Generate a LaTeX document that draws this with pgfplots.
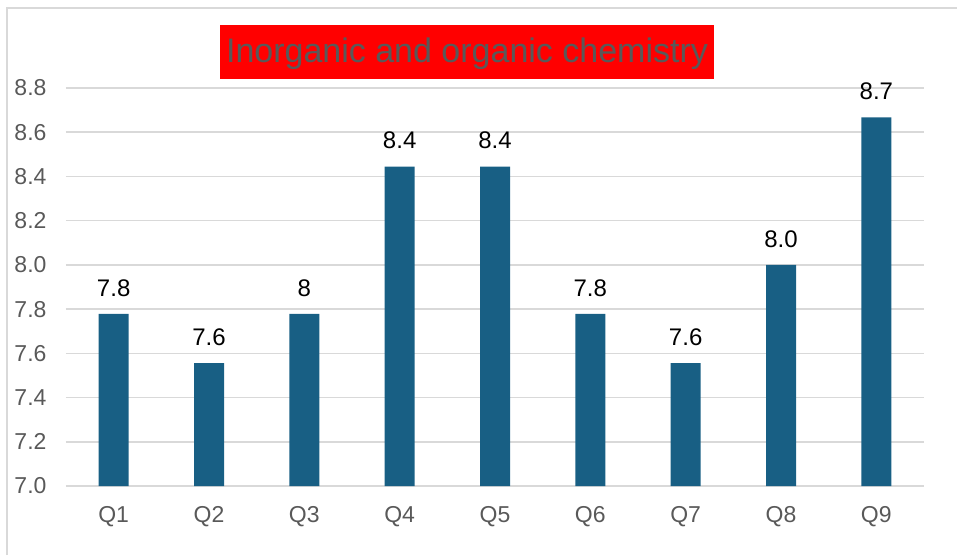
\documentclass[border=0pt]{standalone}
\usepackage{pgfplots}
\pgfplotsset{compat=1.18}
\usepackage{fontspec}
\setmainfont{Liberation Sans}
\definecolor{barblue}{RGB}{24,95,132}
\definecolor{gridgrey}{RGB}{217,217,217}
\definecolor{labelgrey}{RGB}{89,89,89}
\definecolor{titlered}{RGB}{255,0,0}

\begin{document}
\begin{tikzpicture}[x=1pt,y=1pt]
\path[use as bounding box] (0,0) rectangle (957,555);
% chart frame (only left and top visible)
\draw[gridgrey, line width=1.5pt] (7,0) -- (7,547) -- (957,547);
\begin{axis}[
    at={(66pt,69pt)}, anchor=south west,
    scale only axis,
    width=858pt, height=398pt,
    ybar, bar width=30pt,
    xmin=-0.5, xmax=8.5,
    ymin=7.0, ymax=8.8,
    ytick={7.0,7.2,...,8.81},
    xtick=data,
    xticklabels={Q1,Q2,Q3,Q4,Q5,Q6,Q7,Q8,Q9},
    axis line style={draw=none},
    ymajorgrids,
    grid style={gridgrey, line width=1.5pt},
    major tick length=0pt,
    yticklabel style={/pgf/number format/fixed, /pgf/number format/fixed zerofill,
                      /pgf/number format/precision=1, xshift=-16pt},
    /pgf/number format/assume math mode=true,
    tick label style={font=\fontsize{23}{27}\selectfont, text=labelgrey},
    xticklabel style={yshift=-17pt},
    nodes near coords,
    point meta=explicit symbolic,
    every node near coord/.append style={font=\fontsize{24}{28}\selectfont, text=black, yshift=14pt},
    clip=false,
]
\addplot[fill=barblue, draw=none] table[meta=label] {
x y label
0 7.778 7.8
1 7.556 7.6
2 7.778 8
3 8.444 8.4
4 8.444 8.4
5 7.778 7.8
6 7.556 7.6
7 8.000 8.0
8 8.667 8.7
};
\end{axis}
% title box
\fill[titlered] (220,476) rectangle (714,530);
\node[text=labelgrey, anchor=base, inner sep=0pt,
      font=\fontsize{34}{38}\selectfont] at (467,492) {Inorganic and organic chemistry};
\end{tikzpicture}
\end{document}
